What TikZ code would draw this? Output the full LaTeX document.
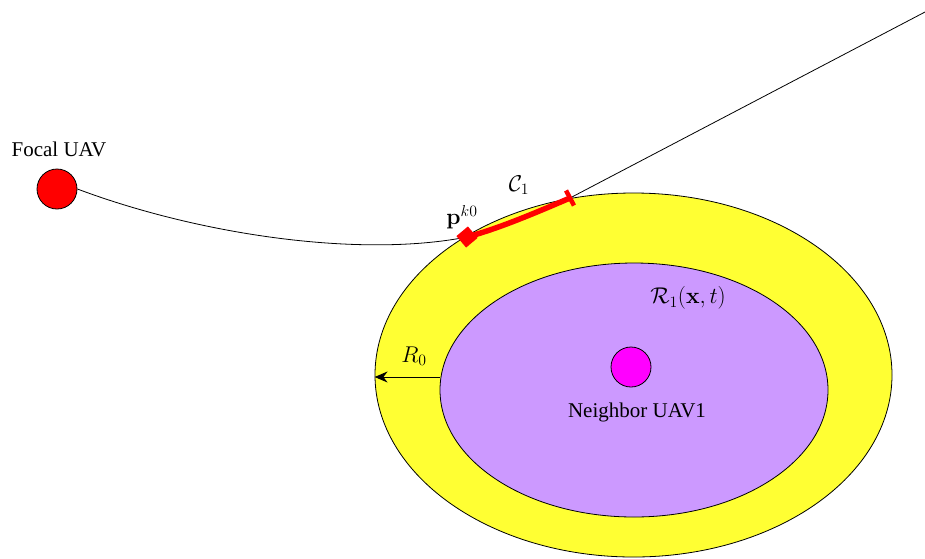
\documentclass[tikz,border=0pt]{standalone}
\usepackage[no-math]{fontspec}
\setmainfont{Liberation Serif}
\usetikzlibrary{shapes.geometric,arrows.meta}
\definecolor{uavred}{HTML}{FF0000}
\definecolor{zoneyellow}{HTML}{FFFF33}
\definecolor{zonepurple}{HTML}{CC99FF}
\definecolor{uavmagenta}{HTML}{FF00FF}
\newcommand{\bigmth}[1]{\scalebox{1.1}{$#1$}}
\begin{document}
\begin{tikzpicture}[x=1pt,y=-1pt,
  lbl/.style={font=\fontsize{21}{25}\selectfont, inner sep=0pt},
  mlbl/.style={font=\fontsize{20.74}{25}\selectfont, inner sep=0pt},
  uav/.style={circle, draw=black, line width=0.8pt, minimum size=40pt, inner sep=0pt},
  zone/.style={ellipse, draw=black, line width=0.8pt, inner sep=0pt}]
\useasboundingbox (0,0) rectangle (925,558);
% zones
\node[zone, fill=zoneyellow, minimum width=517pt, minimum height=364pt] (outer) at (633.5,375) {};
\node[zone, fill=zonepurple, minimum width=388pt, minimum height=254pt] (inner) at (634,390) {};
% UAVs
\node[uav, fill=uavred] (focal) at (57,189) {};
\node[uav, fill=uavmagenta] (nbr) at (631,367) {};
\node[lbl, anchor=south] (focallbl) at (59,157) {Focal UAV};
\node[lbl] (nbrlbl) at (637,412) {Neighbor UAV1};
\node[mlbl] (rlbl) at (688,298) {\bigmth{\mathcal{R}_1(\mathbf{x},t)}};
% path
\coordinate (pk) at (467,237);
\coordinate (cend) at (570,198);
\coordinate (far) at (925,12);
\draw[line width=0.8pt] (focal.east) .. controls (200,235) and (360,258) .. (pk)
  .. controls (500,228) and (535,213) .. (cend) -- (far);
% red segment
\draw[uavred, line width=5.5pt] (pk) .. controls (500,228) and (535,213) .. (cend);
\node[rectangle, fill=uavred, minimum size=15pt, inner sep=0pt, rotate=40] (pkm) at (pk) {};
\node[rectangle, fill=uavred, minimum width=4.5pt, minimum height=17pt, inner sep=0pt, rotate=28] (cm) at (cend) {};
\node[mlbl] (pklbl) at (462,217) {\bigmth{\mathbf{p}^{k0}}};
\node[mlbl] (clbl) at (519,185) {\bigmth{\mathcal{C}_1}};
% R0 arrow
\coordinate (ra) at ([yshift=13pt]inner.west);
\coordinate (rb) at (outer.west |- ra);
\draw[line width=1pt, -{Stealth[length=13pt,width=11pt]}] (ra) -- (rb);
\node[mlbl] (r0lbl) at (414,356) {\bigmth{R_0}};
\end{tikzpicture}
\end{document}
